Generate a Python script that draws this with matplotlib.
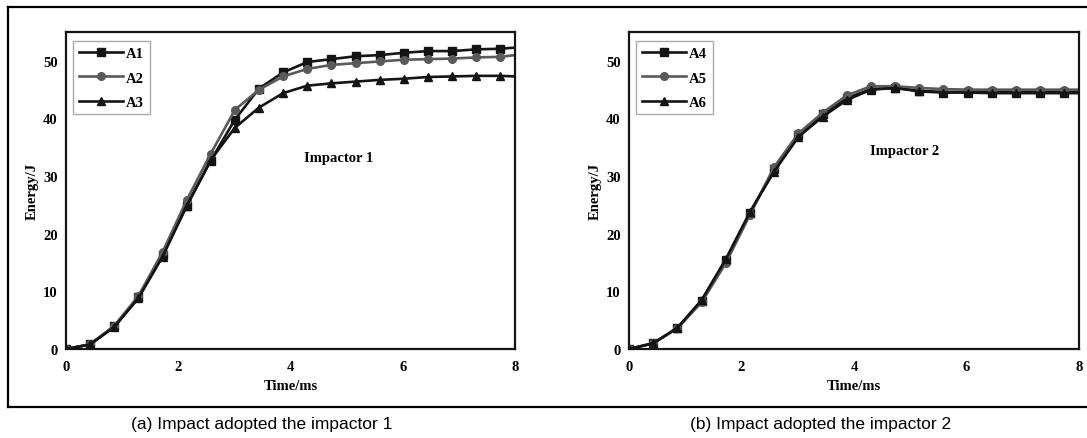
import matplotlib.pyplot as plt
from matplotlib.lines import Line2D

# time points of the plotted samples (ms)
time_ms = [0, 0.43, 0.86, 1.29, 1.72, 2.15, 2.58, 3.01, 3.44, 3.87,
           4.30, 4.73, 5.16, 5.59, 6.02, 6.45, 6.88, 7.31, 7.74, 8.0]

# impactor 1
a1 = [0, 0.8, 4.0, 9.0, 16.3, 24.8, 32.7, 39.8, 45.2, 48.0,
      49.8, 50.3, 50.8, 51.0, 51.4, 51.7, 51.7, 52.0, 52.1, 52.3]
a2 = [0, 0.8, 4.0, 9.2, 16.8, 25.8, 33.9, 41.5, 45.0, 47.3,
      48.6, 49.3, 49.6, 49.9, 50.2, 50.3, 50.4, 50.6, 50.7, 51.0]
a3 = [0, 0.8, 3.8, 8.8, 16.0, 24.8, 32.8, 38.4, 41.9, 44.4,
      45.7, 46.1, 46.4, 46.7, 46.9, 47.2, 47.3, 47.4, 47.4, 47.3]

# impactor 2
a4 = [0, 1.0, 3.6, 8.4, 15.4, 23.6, 31.3, 37.1, 40.7, 43.5,
      45.1, 45.3, 44.8, 44.6, 44.6, 44.6, 44.6, 44.6, 44.6, 44.6]
a5 = [0, 1.0, 3.6, 8.1, 14.9, 23.3, 31.6, 37.4, 41.0, 44.0,
      45.6, 45.6, 45.3, 45.1, 45.0, 45.0, 45.0, 45.0, 45.0, 45.0]
a6 = [0, 1.0, 3.7, 8.5, 15.6, 23.8, 30.8, 36.8, 40.3, 43.2,
      45.0, 45.3, 44.7, 44.5, 44.5, 44.4, 44.4, 44.4, 44.4, 44.4]

x_ticks = [0, 2, 4, 6, 8]
y_ticks = [0, 10, 20, 30, 40, 50]

BLACK = "#141414"
GRAY = "#5a5a5a"
SERIF = "Liberation Serif"

fig = plt.figure(figsize=(10.87, 4.39), dpi=100)

# frame lines round the two panels
fig.add_artist(Line2D([0.0074, 1.0], [0.982, 0.982], color="black", lw=1.6))
fig.add_artist(Line2D([0.0074, 1.0], [0.0706, 0.0706], color="black", lw=1.6))
fig.add_artist(Line2D([0.0074, 0.0074], [0.0706, 0.982], color="black", lw=1.6))


def draw_panel(ax, series, labels, note, note_xy):
    styles = [(BLACK, "s"), (GRAY, "o"), (BLACK, "^")]
    for y, lab, (c, m) in zip(series, labels, styles):
        ax.plot(time_ms, y, color=c, marker=m, markersize=5.5, lw=1.9,
                label=lab, markevery=list(range(len(time_ms) - 1)))
    ax.set_xlim(0, 8)
    ax.set_ylim(0, 55)
    ax.set_xticks(x_ticks)
    ax.set_yticks(y_ticks)
    ax.tick_params(length=0, labelsize=10.5)
    ax.tick_params(axis="x", pad=8)
    ax.tick_params(axis="y", pad=6)
    for t in ax.get_xticklabels() + ax.get_yticklabels():
        t.set_fontfamily(SERIF)
        t.set_fontweight("bold")
    for s in ax.spines.values():
        s.set_linewidth(1.6)
        s.set_color(BLACK)
    ax.set_xlabel("Time/ms", fontfamily=SERIF, fontweight="bold",
                  fontsize=10.5, labelpad=4)
    ax.set_ylabel("Energy/J", fontfamily=SERIF, fontweight="bold",
                  fontsize=10.5, labelpad=3)
    ax.text(note_xy[0], note_xy[1], note, fontfamily=SERIF, fontweight="bold",
            fontsize=10.5, ha="center", va="center")
    leg = ax.legend(loc="upper left", bbox_to_anchor=(0.01, 0.98),
                    prop={"family": SERIF, "weight": "bold", "size": 10.5},
                    handlelength=3.0, handletextpad=0.2, labelspacing=0.75,
                    borderpad=0.4, borderaxespad=0.2, fancybox=False,
                    framealpha=1)
    leg.get_frame().set_edgecolor("#aaaaaa")
    leg.get_frame().set_linewidth(1.0)


ax1 = fig.add_axes([0.0607, 0.2027, 0.413, 0.722])
draw_panel(ax1, [a1, a2, a3], ["A1", "A2", "A3"], "Impactor 1", (4.85, 33.3))

ax2 = fig.add_axes([0.5787, 0.2027, 0.414, 0.722])
draw_panel(ax2, [a4, a5, a6], ["A4", "A5", "A6"], "Impactor 2", (4.9, 34.4))

fig.text(262 / 1087, 1 - 425 / 439, "(a) Impact adopted the impactor 1",
         family="Liberation Sans", fontsize=12.5, ha="center", va="center")
fig.text(821 / 1087, 1 - 425 / 439, "(b) Impact adopted the impactor 2",
         family="Liberation Sans", fontsize=12.5, ha="center", va="center")

fig.savefig("out.png", dpi=100)
